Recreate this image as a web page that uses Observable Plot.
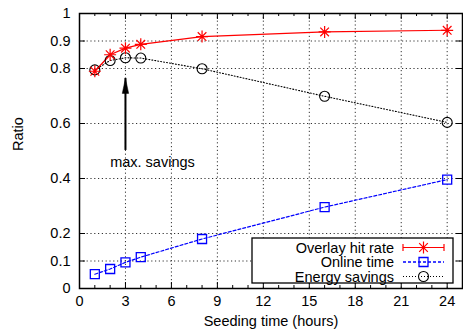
<!DOCTYPE html>
<html>
<head>
<meta charset="utf-8">
<script src="https://cdn.jsdelivr.net/npm/d3@7"></script>
<script src="https://cdn.jsdelivr.net/npm/@observablehq/plot@0.6"></script>
<style>
  html, body { margin: 0; padding: 0; background: #fff; }
  #chart svg { display: block; }
</style>
</head>
<body>
<div id="chart"></div>
<script>
// ---- data ----
const hours = [1, 2, 3, 4, 8, 16, 24];
const hitRate = [0.79, 0.85, 0.874, 0.888, 0.916, 0.933, 0.939];
const onlineTime = [0.052, 0.071, 0.095, 0.114, 0.18, 0.296, 0.396];
const energySavings = [0.795, 0.829, 0.839, 0.838, 0.799, 0.699, 0.604];
const seriesNames = ["Overlay hit rate", "Online time", "Energy savings"];
const xTicks = [0, 3, 6, 9, 12, 15, 18, 21, 24];
const xMinorTicks = [1, 2, 4, 5, 7, 8, 10, 11, 13, 14, 16, 17, 19, 20, 22, 23, 24, 25].filter(d => d % 3 !== 0);
const yTicks = [0, 0.1, 0.2, 0.4, 0.6, 0.8, 0.9, 1];
const yTickLabels = ["0", "0.1", "0.2", "0.4", "0.6", "0.8", "0.9", "1"];
const annotation = {x: 3, yFrom: 0.502, yTo: 0.764, label: "max. savings", labelX: 2, labelY: 0.46};
const xLabel = "Seeding time (hours)";
const yLabel = "Ratio";

const rows = hours.map((h, i) => ({h, hit: hitRate[i], online: onlineTime[i], energy: energySavings[i]}));

// ---- layout ----
const W = 463, H = 333;
const mL = 79, mR = 1, mT = 13, mB = 45;
const innerW = W - mL - mR, innerH = H - mT - mB;
const FONT = "'Liberation Sans', Arial, Helvetica, sans-serif";
const FS = 14.5;

// custom symbols
const asterisk = {draw(ctx, size) {
  const r = 6, d = r * 0.72;
  ctx.moveTo(-r, 0); ctx.lineTo(r, 0);
  ctx.moveTo(0, -r); ctx.lineTo(0, r);
  ctx.moveTo(-d, -d); ctx.lineTo(d, d);
  ctx.moveTo(-d, d); ctx.lineTo(d, -d);
}};
const square = {draw(ctx, size) { ctx.rect(-4.5, -4.5, 9, 9); }};
const circle = {draw(ctx, size) { ctx.moveTo(5, 0); ctx.arc(0, 0, 5, 0, 2 * Math.PI); }};
const arrowHead = {draw(ctx, size) {
  ctx.moveTo(0, 0); ctx.lineTo(-3.2, 15); ctx.lineTo(3.2, 15); ctx.closePath();
}};

const gridStyle = {stroke: "#333", strokeWidth: 1, strokeDasharray: "1.2,2.6", strokeOpacity: 1};

const plot = Plot.plot({
  width: W, height: H,
  marginLeft: mL, marginRight: mR, marginTop: mT, marginBottom: mB,
  style: {fontFamily: FONT, fontSize: FS + "px", background: "#fff", color: "#000"},
  x: {domain: [0, 25], axis: null},
  y: {domain: [0, 1], axis: null},
  marks: [
    // grid
    Plot.ruleX(xTicks.filter(d => d > 0), {x: d => d, ...gridStyle}),
    Plot.ruleY(yTicks.filter(d => d > 0 && d < 1), {y: d => d, ...gridStyle}),
    // ticks (inward, mirrored)
    Plot.tickX(xTicks, {x: d => d, insetTop: innerH - 6, stroke: "#000"}),
    Plot.tickX(xTicks, {x: d => d, insetBottom: innerH - 6, stroke: "#000"}),
    Plot.tickX(xMinorTicks, {x: d => d, insetTop: innerH - 3, stroke: "#000"}),
    Plot.tickX(xMinorTicks, {x: d => d, insetBottom: innerH - 3, stroke: "#000"}),
    Plot.tickY(yTicks, {y: d => d, insetRight: innerW - 6, stroke: "#000"}),
    Plot.tickY(yTicks, {y: d => d, insetLeft: innerW - 6, stroke: "#000"}),
    // tick labels
    Plot.text(xTicks, {x: d => d, frameAnchor: "bottom", dy: 17, text: d => String(d), fill: "#000"}),
    Plot.text(yTicks, {y: d => d, frameAnchor: "left", dx: -9, textAnchor: "end", text: (d, i) => yTickLabels[i], fill: "#000"}),
    // axis labels
    Plot.text([xLabel], {frameAnchor: "bottom", dy: 37, text: d => d, fill: "#000"}),
    Plot.text([yLabel], {frameAnchor: "left", dx: -61, rotate: -90, text: d => d, fill: "#000"}),
    // series lines
    Plot.line(rows, {x: "h", y: "energy", stroke: "#000", strokeWidth: 1.1, strokeDasharray: "1,2"}),
    Plot.line(rows, {x: "h", y: "online", stroke: "#0000ff", strokeWidth: 1.2, strokeDasharray: "3,2"}),
    Plot.line(rows, {x: "h", y: "hit", stroke: "#ff0000", strokeWidth: 1.2}),
    // markers
    Plot.dot(rows, {x: "h", y: "energy", symbol: circle, stroke: "#000", strokeWidth: 1.1, fill: "none"}),
    Plot.dot(rows, {x: "h", y: "online", symbol: square, stroke: "#0000ff", strokeWidth: 1.3, fill: "none"}),
    Plot.dot(rows, {x: "h", y: "hit", symbol: asterisk, stroke: "#ff0000", strokeWidth: 1.2, fill: "none"}),
    // annotation arrow
    Plot.ruleX([annotation], {x: "x", y1: "yFrom", y2: "yTo", stroke: "#000", strokeWidth: 2}),
    Plot.dot([annotation], {x: "x", y: "yTo", symbol: arrowHead, fill: "#000", stroke: "#000", strokeWidth: 0.5}),
    Plot.text([annotation], {x: "labelX", y: "labelY", text: "label", textAnchor: "start", fill: "#000"}),
    // frame
    Plot.frame({stroke: "#000", strokeWidth: 1.5})
  ]
});
document.getElementById("chart").appendChild(plot);

// ---- legend inside the plot (bottom right) ----
const svg = d3.select(plot);
const lg = svg.append("g").attr("font-family", FONT).attr("font-size", FS);
const box = {x: 252, y: 238, w: 201, h: 45};
lg.append("rect").attr("x", box.x).attr("y", box.y).attr("width", box.w).attr("height", box.h)
  .attr("fill", "#fff").attr("stroke", "#000").attr("stroke-width", 1.3);
const styles = [
  {stroke: "#ff0000", dash: null, sym: asterisk, caps: true, sw: 1.2},
  {stroke: "#0000ff", dash: "3,2", sym: square, caps: false, sw: 1.3},
  {stroke: "#000", dash: "1,2", sym: circle, caps: false, sw: 1.1}
];
seriesNames.forEach((name, i) => {
  const cy = box.y + 9.5 + i * 14.5;
  const s = styles[i];
  lg.append("text").attr("x", 394).attr("y", cy).attr("dy", "0.35em").attr("text-anchor", "end").attr("fill", "#000").text(name);
  lg.append("line").attr("x1", 403).attr("x2", 444).attr("y1", cy).attr("y2", cy)
    .attr("stroke", s.stroke).attr("stroke-width", s.sw).attr("stroke-dasharray", s.dash);
  if (s.caps) {
    [403, 444].forEach(x => lg.append("line").attr("x1", x).attr("x2", x).attr("y1", cy - 3.5).attr("y2", cy + 3.5)
      .attr("stroke", s.stroke).attr("stroke-width", 1.2));
  }
  const p = d3.path(); s.sym.draw(p, 0);
  lg.append("path").attr("d", p.toString()).attr("transform", `translate(423.5,${cy})`)
    .attr("fill", "none").attr("stroke", s.stroke).attr("stroke-width", s.sw);
});
</script>
</body>
</html>
